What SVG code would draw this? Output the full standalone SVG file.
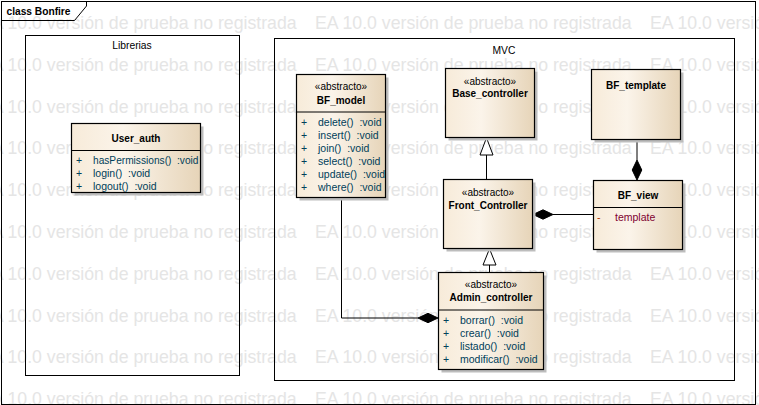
<svg xmlns="http://www.w3.org/2000/svg" width="759" height="405" viewBox="0 0 759 405">
<defs>
<linearGradient id="cls" x1="0" y1="0" x2="1" y2="0">
<stop offset="0" stop-color="#F7EBD9"/>
<stop offset="0.4" stop-color="#FBF4EA"/>
<stop offset="1" stop-color="#E6D4B8"/>
</linearGradient>
</defs>
<style>
.wm{font-family:"Liberation Sans",Arial,sans-serif;font-size:17.7px;fill:#E5E5E5}
.frame{fill:none;stroke:#000;stroke-width:1}
.box{fill:url(#cls);stroke:#000;stroke-width:1.2}
.shadow{fill:#BDBDBD}
.div{stroke:#000;stroke-width:1}
.lbl{font-family:"Liberation Sans",Arial,sans-serif;font-size:10.3px;fill:#000}
.title{font-family:"Liberation Sans",Arial,sans-serif;font-size:10.2px;font-weight:bold;fill:#000}
.ster{font-family:"Liberation Sans",Arial,sans-serif;font-size:10px;fill:#000;text-anchor:middle}
.name{font-family:"Liberation Sans",Arial,sans-serif;font-size:10px;font-weight:bold;fill:#000;text-anchor:middle}
.op{font-family:"Liberation Sans",Arial,sans-serif;font-size:10.5px;fill:#00405A;white-space:pre}
.att{font-family:"Liberation Sans",Arial,sans-serif;font-size:10.5px;fill:#800030}
.attv{font-family:"Liberation Sans",Arial,sans-serif;font-size:10.5px;fill:#B03000}
.line{fill:none;stroke:#000;stroke-width:1}
.gen{fill:#fff;stroke:#000;stroke-width:1}
.comp{fill:#000;stroke:#000;stroke-width:1}
</style>
<rect x="0" y="0" width="759" height="405" fill="#fff"/>
<g id="watermark">
<text class="wm" y="29"><tspan x="-20">EA 10.0 versión de prueba no registrada</tspan><tspan x="315">EA 10.0 versión de prueba no registrada</tspan><tspan x="650">EA 10.0 versión de prueba no registrada</tspan></text>
<text class="wm" y="70.8"><tspan x="-20">EA 10.0 versión de prueba no registrada</tspan><tspan x="315">EA 10.0 versión de prueba no registrada</tspan><tspan x="650">EA 10.0 versión de prueba no registrada</tspan></text>
<text class="wm" y="112.6"><tspan x="-20">EA 10.0 versión de prueba no registrada</tspan><tspan x="315">EA 10.0 versión de prueba no registrada</tspan><tspan x="650">EA 10.0 versión de prueba no registrada</tspan></text>
<text class="wm" y="154.4"><tspan x="-20">EA 10.0 versión de prueba no registrada</tspan><tspan x="315">EA 10.0 versión de prueba no registrada</tspan><tspan x="650">EA 10.0 versión de prueba no registrada</tspan></text>
<text class="wm" y="196.2"><tspan x="-20">EA 10.0 versión de prueba no registrada</tspan><tspan x="315">EA 10.0 versión de prueba no registrada</tspan><tspan x="650">EA 10.0 versión de prueba no registrada</tspan></text>
<text class="wm" y="238"><tspan x="-20">EA 10.0 versión de prueba no registrada</tspan><tspan x="315">EA 10.0 versión de prueba no registrada</tspan><tspan x="650">EA 10.0 versión de prueba no registrada</tspan></text>
<text class="wm" y="279.8"><tspan x="-20">EA 10.0 versión de prueba no registrada</tspan><tspan x="315">EA 10.0 versión de prueba no registrada</tspan><tspan x="650">EA 10.0 versión de prueba no registrada</tspan></text>
<text class="wm" y="321.6"><tspan x="-20">EA 10.0 versión de prueba no registrada</tspan><tspan x="315">EA 10.0 versión de prueba no registrada</tspan><tspan x="650">EA 10.0 versión de prueba no registrada</tspan></text>
<text class="wm" y="363.4"><tspan x="-20">EA 10.0 versión de prueba no registrada</tspan><tspan x="315">EA 10.0 versión de prueba no registrada</tspan><tspan x="650">EA 10.0 versión de prueba no registrada</tspan></text>
<text class="wm" y="405.2"><tspan x="-20">EA 10.0 versión de prueba no registrada</tspan><tspan x="315">EA 10.0 versión de prueba no registrada</tspan><tspan x="650">EA 10.0 versión de prueba no registrada</tspan></text>
</g>
<g id="frame">
<rect class="frame" x="1.5" y="1.5" width="754" height="403"/>
<path class="frame" d="M1.5,20.5 H74.5 L86.5,6 V1.5"/>
<text class="title" x="6.5" y="14.5">class Bonfire</text>
</g>
<g id="Librerias">
<rect class="frame" x="25.5" y="35.5" width="214" height="340"/>
<text class="lbl" x="132" y="49" text-anchor="middle">Librerias</text>
</g>
<g id="MVC">
<rect class="frame" x="274.5" y="38.5" width="460" height="342"/>
<text class="lbl" x="504" y="53.5" text-anchor="middle">MVC</text>
</g>
<g id="connectors">
<path class="line" d="M486.5,179.5 V155"/>
<polygon class="gen" points="486.5,137.8 480,155 493,155"/>
<path class="line" d="M489.5,272.5 V265"/>
<polygon class="gen" points="489.5,248.8 483,265 496,265"/>
<path class="line" d="M341.5,197.5 V318 H418"/>
<polygon class="comp" points="418,318 428,313.3 438,318 428,322.7"/>
<path class="line" d="M637,139.5 V160"/>
<polygon class="comp" points="637,160 641.8,170 637,180 632.2,170"/>
<path class="line" d="M593.5,214.5 H553"/>
<polygon class="comp" points="553,214.5 543,209.8 533,214.5 543,219.2"/>
</g>
<g id="User_auth">
<rect class="shadow" x="74.5" y="126.5" width="129" height="69"/>
<rect class="box" x="71.5" y="123.5" width="129" height="69"/>
<line class="div" x1="71.5" y1="150.5" x2="200.5" y2="150.5"/>
<text class="name" x="136" y="142">User_auth</text>
<text class="op" x="76" y="164.2">+</text><text class="op" x="93" y="164.2" xml:space="preserve" textLength="105.5" lengthAdjust="spacingAndGlyphs">hasPermissions()  :void</text>
<text class="op" x="76" y="177.2">+</text><text class="op" x="93" y="177.2" xml:space="preserve">login()  :void</text>
<text class="op" x="76" y="190.2">+</text><text class="op" x="93" y="190.2" xml:space="preserve">logout()  :void</text>
</g>
<g id="BF_model">
<rect class="shadow" x="299.5" y="77.5" width="89" height="123"/>
<rect class="box" x="296.5" y="74.5" width="89" height="123"/>
<line class="div" x1="296.5" y1="112" x2="385.5" y2="112"/>
<text class="ster" x="341" y="90">«abstracto»</text>
<text class="name" x="341" y="104">BF_model</text>
<text class="op" x="301" y="125.5">+</text><text class="op" x="318" y="125.5" xml:space="preserve">delete()  :void</text>
<text class="op" x="301" y="138.5">+</text><text class="op" x="318" y="138.5" xml:space="preserve">insert()  :void</text>
<text class="op" x="301" y="151.5">+</text><text class="op" x="318" y="151.5" xml:space="preserve">join()  :void</text>
<text class="op" x="301" y="164.5">+</text><text class="op" x="318" y="164.5" xml:space="preserve">select()  :void</text>
<text class="op" x="301" y="177.5">+</text><text class="op" x="318" y="177.5" xml:space="preserve">update()  :void</text>
<text class="op" x="301" y="190.5">+</text><text class="op" x="318" y="190.5" xml:space="preserve">where()  :void</text>
</g>
<g id="Base_controller">
<rect class="shadow" x="448.5" y="71.5" width="89" height="69"/>
<rect class="box" x="445.5" y="68.5" width="89" height="69"/>
<text class="ster" x="490" y="85">«abstracto»</text>
<text class="name" x="490" y="97">Base_controller</text>
</g>
<g id="Front_Controller">
<rect class="shadow" x="446.5" y="182.5" width="89" height="69"/>
<rect class="box" x="443.5" y="179.5" width="89" height="69"/>
<text class="ster" x="488" y="195.7">«abstracto»</text>
<text class="name" x="488" y="209">Front_Controller</text>
</g>
<g id="Admin_controller">
<rect class="shadow" x="441.5" y="275.5" width="105" height="97"/>
<rect class="box" x="438.5" y="272.5" width="105" height="97"/>
<line class="div" x1="438.5" y1="310" x2="543.5" y2="310"/>
<text class="ster" x="491" y="287.7">«abstracto»</text>
<text class="name" x="491" y="301">Admin_controller</text>
<text class="op" x="443" y="323.5">+</text><text class="op" x="460" y="323.5" xml:space="preserve">borrar()  :void</text>
<text class="op" x="443" y="336.5">+</text><text class="op" x="460" y="336.5" xml:space="preserve">crear()  :void</text>
<text class="op" x="443" y="349.5">+</text><text class="op" x="460" y="349.5" xml:space="preserve">listado()  :void</text>
<text class="op" x="443" y="362.5">+</text><text class="op" x="460" y="362.5" xml:space="preserve">modificar()  :void</text>
</g>
<g id="BF_template">
<rect class="shadow" x="594.5" y="72.5" width="89" height="70"/>
<rect class="box" x="591.5" y="69.5" width="89" height="70"/>
<text class="name" x="636" y="89">BF_template</text>
</g>
<g id="BF_view">
<rect class="shadow" x="596.5" y="183.5" width="89" height="69"/>
<rect class="box" x="593.5" y="180.5" width="89" height="69"/>
<line class="div" x1="593.5" y1="207.5" x2="682.5" y2="207.5"/>
<text class="name" x="638" y="199.2">BF_view</text>
<text class="attv" x="597" y="220.8">-</text><text class="att" x="615" y="220.8">template</text>
</g>
</svg>
